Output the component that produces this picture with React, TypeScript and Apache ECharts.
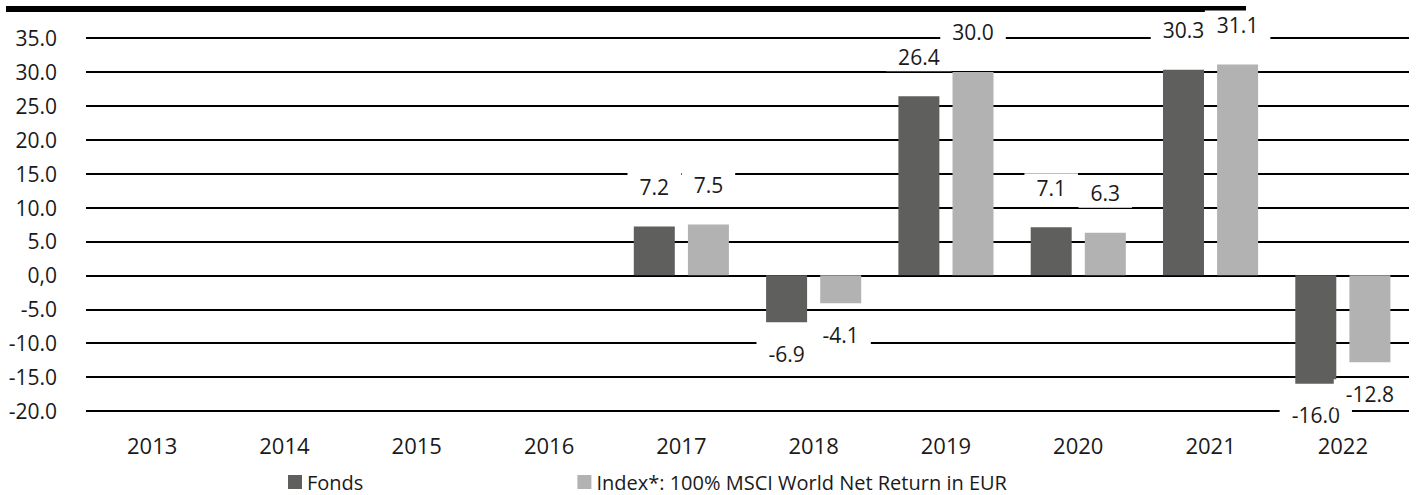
import React, { useEffect, useRef } from "react";
import * as echarts from "echarts";

const years = ["2013", "2014", "2015", "2016", "2017", "2018", "2019", "2020", "2021", "2022"];
const fonds: (number | null)[] = [null, null, null, null, 7.2, -6.9, 26.4, 7.1, 30.3, -16.0];
const indexVals: (number | null)[] = [null, null, null, null, 7.5, -4.1, 30.0, 6.3, 31.1, -12.8];
const seriesNames = ["Fonds", "Index*: 100% MSCI World Net Return in EUR"];
const yMin = -20;
const yMax = 35;
const yStep = 5;

const FONT = "'Open Sans', 'Noto Sans', sans-serif";
const TXT = "#1a1a1a";

function toData(vals: (number | null)[]) {
  return vals.map((v) =>
    v === null
      ? null
      : {
          value: v,
          label: {
            position: v < 0 ? "bottom" : "top",
            distance: v < 0 ? 17 : 25,
          },
        }
  );
}

export default function App() {
  const ref = useRef<HTMLDivElement>(null);
  useEffect(() => {
    document.body.style.margin = "0";
    const chart = echarts.init(ref.current!, null, { renderer: "svg" });
    const label = {
      show: true,
      formatter: (p: any) => Number(p.value).toFixed(1),
      fontFamily: FONT,
      fontSize: 21,
      color: TXT,
      backgroundColor: "#ffffff",
      padding: [4, 12],
    };
    chart.setOption({
      animation: false,
      textStyle: { fontFamily: FONT },
      grid: { left: 86, right: 14, top: 38, bottom: 84, containLabel: false },
      graphic: [
        { type: "rect", shape: { x: 6, y: 6, width: 1240, height: 6 }, style: { fill: "#000" } },
      ],
      legend: {
        left: 288,
        top: 472,
        padding: 0,
        itemWidth: 14,
        itemHeight: 14,
        itemGap: 214,
        icon: "rect",
        textStyle: { fontFamily: FONT, fontSize: 20, lineHeight: 20, color: TXT },
        data: seriesNames,
      },
      xAxis: {
        type: "category",
        data: years,
        axisLine: { show: false },
        axisTick: { show: false },
        axisLabel: { fontFamily: FONT, fontSize: 22, color: TXT, margin: 23 },
      },
      yAxis: {
        type: "value",
        min: yMin,
        max: yMax,
        interval: yStep,
        axisLine: { show: false },
        axisTick: { show: false },
        splitLine: { lineStyle: { color: "#000", width: 2 } },
        axisLabel: {
          fontFamily: FONT,
          fontSize: 21,
          color: TXT,
          margin: 29,
          formatter: (v: number) => (v === 0 ? "0,0" : v.toFixed(1)),
        },
      },
      series: [
        {
          name: seriesNames[0],
          type: "bar",
          data: toData(fonds),
          barWidth: 41,
          barGap: "32%",
          itemStyle: { color: "#5f5f5d" },
          label,
        },
        {
          name: seriesNames[1],
          type: "bar",
          data: toData(indexVals),
          barWidth: 41,
          barGap: "32%",
          itemStyle: { color: "#b2b2b2" },
          label,
        },
      ],
    });
    return () => chart.dispose();
  }, []);
  return <div ref={ref} style={{ width: 1423, height: 495 }} />;
}
